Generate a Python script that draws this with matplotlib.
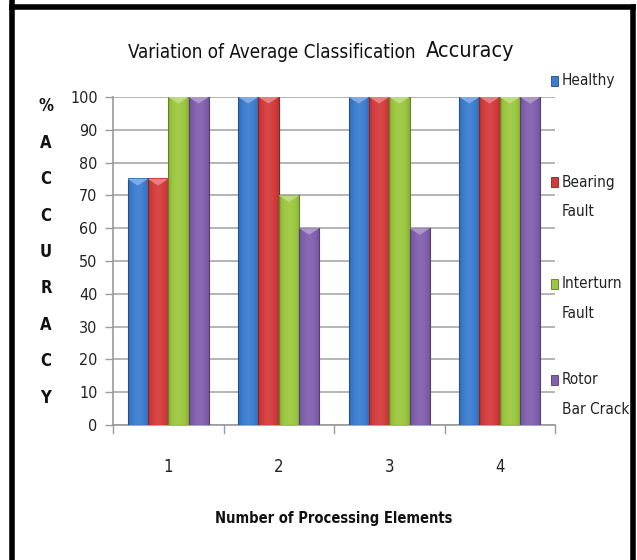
import numpy as np
import matplotlib
matplotlib.use("Agg")
import matplotlib.pyplot as plt
from matplotlib.colors import to_rgb
from matplotlib.patches import Polygon, Rectangle
from matplotlib.lines import Line2D

categories = ["1", "2", "3", "4"]
series_names = [["Healthy"], ["Bearing", "Fault"], ["Interturn", "Fault"], ["Rotor", "Bar Crack"]]
healthy = [75, 100, 100, 100]
bearing_fault = [75, 100, 100, 100]
interturn_fault = [100, 70, 100, 100]
rotor_bar_crack = [100, 60, 60, 100]
yticks = [0, 10, 20, 30, 40, 50, 60, 70, 80, 90, 100]

colors = ["#3B7DD0", "#D43C3C", "#9CC83F", "#8260AE"]
series = [healthy, bearing_fault, interturn_fault, rotor_bar_crack]

plt.rcParams["font.family"] = ["DejaVu Sans"]
plt.rcParams["font.stretch"] = "condensed"

fig = plt.figure(figsize=(6.37, 5.60), dpi=100)
ax = fig.add_axes([113 / 637, 1 - 425 / 560, (555 - 113) / 637, (425 - 97) / 560])

n = len(series)
group_w = 0.735
bw = group_w / n
x = np.arange(1, len(categories) + 1)


def shade(c, f):
    r = np.array(to_rgb(c))
    if f >= 0:
        return r + (1 - r) * f
    return r * (1 + f)


def draw_bar(ax, x0, h, color):
    # horizontal gradient for a rounded, glossy look
    xs = np.linspace(0, 1, 64)
    prof = 0.18 * np.sin(np.pi * xs) - 0.12
    img = np.array([[shade(color, p) for p in prof]])
    ax.imshow(img, extent=(x0, x0 + bw, 0, h), aspect="auto",
              interpolation="bicubic", zorder=3)
    ax.add_patch(Rectangle((x0, 0), bw, h, fill=False,
                           edgecolor=shade(color, -0.35), lw=0.8, zorder=4))
    # bevelled cap at the top
    cap = 2.0
    tri = Polygon([(x0, h), (x0 + bw, h), (x0 + bw / 2, h - cap)],
                  closed=True, facecolor=shade(color, 0.35),
                  edgecolor="none", zorder=4)
    ax.add_patch(tri)


for i, (vals, col) in enumerate(zip(series, colors)):
    for xi, v in zip(x, vals):
        x0 = xi - group_w / 2 + i * bw
        draw_bar(ax, x0, v, col)

ax.set_xlim(0.5, 4.5)
ax.set_ylim(0, 100)
ax.set_yticks(yticks)
ax.set_yticklabels([str(t) for t in yticks], fontsize=11.5, color="#222222")
ax.set_xticks(x)
ax.set_xticklabels(categories, fontsize=12, color="#222222")
ax.tick_params(axis="x", length=0, pad=24)
ax.tick_params(axis="y", length=6, color="#9A9A9A", width=1, pad=5)
for b in np.arange(0.5, 4.6, 1.0):
    ax.plot([b, b], [0, -2.4], color="#9A9A9A", lw=1, clip_on=False, zorder=2)
ax.grid(axis="y", color="#A8A8A8", lw=1.2, zorder=0)
ax.set_axisbelow(True)
for s in ["top", "right"]:
    ax.spines[s].set_visible(False)
for s in ["left", "bottom"]:
    ax.spines[s].set_color("#9A9A9A")
    ax.spines[s].set_linewidth(1.2)

# title with enlarged last word
fig.text(128 / 637, 1 - 53 / 560, "Variation of Average Classification", fontsize=13.5,
         ha="left", va="center", color="#111111")
fig.text(426 / 637, 1 - 51 / 560, "Accuracy", fontsize=15.5,
         ha="left", va="center", color="#111111")

# stacked vertical axis label
letters = ["%", "A", "C", "C", "U", "R", "A", "C", "Y"]
ys = np.linspace(106, 398, len(letters))
for ch, yy in zip(letters, ys):
    fig.text(46 / 637, 1 - yy / 560, ch, fontsize=12, fontweight="bold",
             ha="center", va="center", color="#111111")

fig.text(334 / 637, 1 - 518 / 560, "Number of Processing Elements", fontsize=10.5,
         fontweight="bold", ha="center", va="center", color="#111111")

# legend entries on the right
leg_y = [81, 182, 284, 380]
for lines, col, yy in zip(series_names, colors, leg_y):
    fig.patches.append(Rectangle((551 / 637, 1 - (yy + 5) / 560), 7 / 637, 10 / 560,
                                 transform=fig.transFigure, facecolor=col,
                                 edgecolor=shade(col, -0.4), lw=0.6))
    for k, line in enumerate(lines):
        fig.text(562 / 637, 1 - (yy + 30 * k) / 560, line, fontsize=11, ha="left",
                 va="center", color="#222222")

# outer frame
for xs_, ys_ in [([12, 12], [0, 560]), ([12, 633], [7, 7]), ([633, 633], [7, 560])]:
    fig.add_artist(Line2D([v / 637 for v in xs_], [1 - v / 560 for v in ys_],
                          transform=fig.transFigure, color="black", lw=4))

fig.savefig("out.png", dpi=100)
